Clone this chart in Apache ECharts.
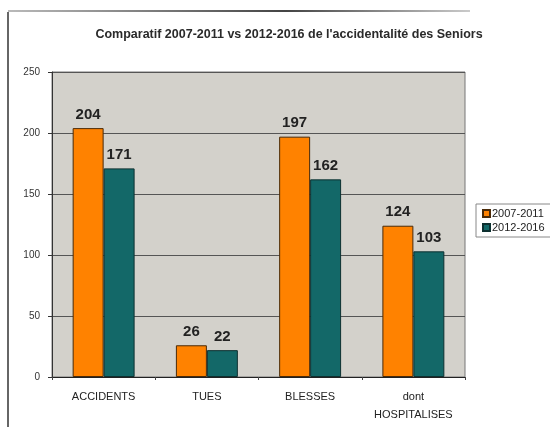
<!DOCTYPE html>
<html>
<head>
<meta charset="utf-8">
<script src="https://cdn.jsdelivr.net/npm/echarts@6/dist/echarts.min.js"></script>
<style>
  html, body { margin: 0; padding: 0; background: #ffffff; overflow: hidden; }
  #chart { width: 550px; height: 427px; }
</style>
</head>
<body>
<div id="chart"></div>
<script>
// Accident categories and totals per period
const categories = ['ACCIDENTS', 'TUES', 'BLESSES', 'dont\nHOSPITALISES'];
const period1Name = '2007-2011';
const period2Name = '2012-2016';
const period1Values = [204, 26, 197, 124];
const period2Values = [171, 22, 162, 103];
const yTicks = { min: 0, max: 250, interval: 50 };

const chart = echarts.init(document.getElementById('chart'));

const labelStyle = {
  show: true,
  position: 'top',
  distance: 6,
  fontFamily: 'Liberation Sans, Arial, sans-serif',
  fontWeight: 'bold',
  fontSize: 15,
  color: '#222'
};

chart.setOption({
  animation: false,
  backgroundColor: '#ffffff',
  title: {
    text: "Comparatif 2007-2011 vs 2012-2016 de l'accidentalité des Seniors",
    left: 284,
    top: 23,
    textAlign: 'center',
    textStyle: {
      fontFamily: 'Liberation Sans, Arial, sans-serif',
      fontWeight: 'bold',
      fontSize: 12.5,
      color: '#2a2a2a'
    }
  },
  legend: {
    orient: 'vertical',
    left: 476,
    top: 204,
    itemWidth: 7,
    itemHeight: 7,
    itemGap: 3,
    padding: [4, 6, 4, 6],
    borderColor: '#888',
    borderWidth: 1,
    icon: 'rect',
    textStyle: {
      fontFamily: 'Liberation Sans, Arial, sans-serif',
      fontSize: 11,
      color: '#222',
      padding: [0, 0, 0, -3]
    },
    data: [period1Name, period2Name]
  },
  grid: {
    left: 52,
    right: 85,
    top: 72,
    bottom: 50,
    show: true,
    backgroundColor: '#d3d1cb',
    borderColor: '#777',
    borderWidth: 1
  },
  xAxis: {
    type: 'category',
    data: categories,
    axisLine: { lineStyle: { color: '#222', width: 1 } },
    axisTick: { show: true, length: 3, lineStyle: { color: '#444' } },
    axisLabel: {
      fontFamily: 'Liberation Sans, Arial, sans-serif',
      fontSize: 11,
      color: '#222',
      margin: 11,
      lineHeight: 18
    }
  },
  yAxis: {
    type: 'value',
    min: yTicks.min,
    max: yTicks.max,
    interval: yTicks.interval,
    axisLine: { show: true, lineStyle: { color: '#333', width: 1 } },
    axisTick: { show: true, length: 4, lineStyle: { color: '#333' } },
    axisLabel: {
      fontFamily: 'Liberation Sans, Arial, sans-serif',
      fontSize: 10,
      color: '#333',
      margin: 12
    },
    splitLine: { show: true, lineStyle: { color: '#555', width: 1 } }
  },
  series: [
    {
      name: period1Name,
      type: 'bar',
      data: period1Values,
      barGap: '0%',
      barCategoryGap: '40%',
      itemStyle: { color: '#ff8200', borderColor: '#4a2a08', borderWidth: 1 },
      label: labelStyle
    },
    {
      name: period2Name,
      type: 'bar',
      data: period2Values,
      itemStyle: { color: '#136868', borderColor: '#0d3030', borderWidth: 1 },
      label: labelStyle
    }
  ],
  graphic: [
    {
      type: 'line',
      shape: { x1: 8, y1: 12, x2: 8, y2: 427 },
      style: { stroke: '#666', lineWidth: 2 }
    },
    {
      type: 'line',
      shape: { x1: 8, y1: 11, x2: 470, y2: 11 },
      style: {
        stroke: new echarts.graphic.LinearGradient(0, 0, 1, 0, [
          { offset: 0, color: '#bbb' },
          { offset: 0.6, color: '#444' },
          { offset: 1, color: '#ccc' }
        ]),
        lineWidth: 2
      }
    }
  ]
});
</script>
</body>
</html>
